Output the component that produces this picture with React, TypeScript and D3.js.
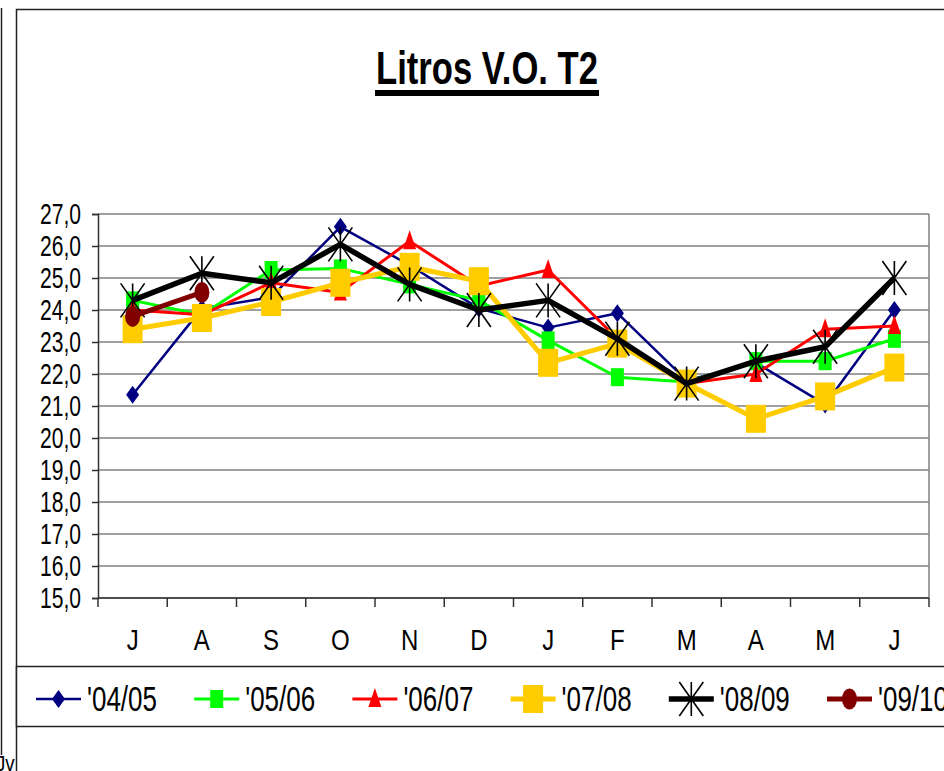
import React, { useEffect, useRef } from "react";
import * as d3 from "d3";

// --- Data ---
const months = ["J", "A", "S", "O", "N", "D", "J", "F", "M", "A", "M", "J"];
const seriesNames = ["'04/05", "'05/06", "'06/07", "'07/08", "'08/09", "'09/10"];
const s0405 = [21.35, 24.05, 24.4, 26.6, 25.4, 24.05, 23.45, 23.9, 21.8, 22.35, 21.05, 24.0];
const s0506 = [24.3, 23.85, 25.25, 25.3, 24.8, 24.3, 23.05, 21.9, 21.75, 22.4, 22.4, 23.1];
const s0607 = [24.0, 23.85, 24.85, 24.55, 26.15, 24.75, 25.25, 23.1, 21.7, 22.0, 23.4, 23.5];
const s0708 = [23.4, 23.75, 24.25, 24.85, 25.35, 24.9, 22.35, 22.95, 21.7, 20.6, 21.3, 22.2];
const s0809 = [24.3, 25.15, 24.85, 26.05, 24.8, 24.0, 24.3, 23.1, 21.7, 22.4, 22.85, 25.0];
const s0910 = [23.8, 24.55];
const yTicks = [15, 16, 17, 18, 19, 20, 21, 22, 23, 24, 25, 26, 27];

const FONT = "'Liberation Sans Narrow', 'Arial Narrow', 'Liberation Sans', Arial, sans-serif";

const App = () => {
  const svgRef = useRef<SVGSVGElement>(null);

  useEffect(() => {
    const svg = d3.select(svgRef.current);
    svg.selectAll("*").remove();

    const width = 944;
    const height = 771;
    const plot = { left: 98, right: 929, top: 214, bottom: 598 };

    const x = d3
      .scaleBand<number>()
      .domain(d3.range(months.length))
      .range([plot.left, plot.right]);
    const y = d3.scaleLinear().domain([15, 27]).range([plot.bottom, plot.top]);
    const cx = (i: number) => (x(i) as number) + x.bandwidth() / 2;

    const series = [
      { name: seriesNames[0], values: s0405, color: "#000080", lw: 2.5, marker: "diamond" },
      { name: seriesNames[1], values: s0506, color: "#00ff00", lw: 3, marker: "square" },
      { name: seriesNames[2], values: s0607, color: "#ff0000", lw: 3, marker: "triangle" },
      { name: seriesNames[3], values: s0708, color: "#ffcc00", lw: 5, marker: "bigsquare" },
      { name: seriesNames[4], values: s0809, color: "#000000", lw: 5.5, marker: "star" },
      { name: seriesNames[5], values: s0910, color: "#800000", lw: 5, marker: "circle" },
    ];

    // outer frames
    svg
      .append("line")
      .attr("x1", 1.5)
      .attr("x2", 1.5)
      .attr("y1", 8)
      .attr("y2", 755)
      .attr("stroke", "#222")
      .attr("stroke-width", 1.5);
    svg
      .append("rect")
      .attr("x", 16.5)
      .attr("y", 9.5)
      .attr("width", 1000)
      .attr("height", 1000)
      .attr("fill", "#fff")
      .attr("stroke", "#222")
      .attr("stroke-width", 1.5);
    svg
      .append("text")
      .attr("transform", "translate(-4,771) scale(0.85,1)")
      .style("font-family", FONT)
      .style("font-size", "22px")
      .text("Jv");

    // title
    svg
      .append("text")
      .attr("x", 376)
      .attr("y", 84)
      .attr("textLength", 222)
      .attr("lengthAdjust", "spacingAndGlyphs")
      .style("font-family", FONT)
      .style("font-weight", "bold")
      .style("font-size", "46px")
      .text("Litros V.O. T2");
    svg.append("rect").attr("x", 375).attr("y", 90).attr("width", 224).attr("height", 6).attr("fill", "#000");

    // gridlines
    svg
      .append("g")
      .selectAll("line")
      .data(yTicks)
      .join("line")
      .attr("x1", plot.left)
      .attr("x2", plot.right)
      .attr("y1", (d) => y(d))
      .attr("y2", (d) => y(d))
      .attr("stroke", "#808080")
      .attr("stroke-width", 1.5);
    svg
      .append("line")
      .attr("x1", plot.right)
      .attr("x2", plot.right)
      .attr("y1", plot.top)
      .attr("y2", plot.bottom)
      .attr("stroke", "#808080")
      .attr("stroke-width", 1.5);

    // y axis
    const yAxis = svg
      .append("g")
      .attr("transform", `translate(${plot.left},0)`)
      .call(
        d3
          .axisLeft(y)
          .tickValues(yTicks)
          .tickSize(6)
          .tickPadding(11)
          .tickFormat((d) => d3.format(".1f")(d as number).replace(".", ","))
      );
    yAxis.select(".domain").attr("stroke", "#333").attr("stroke-width", 1.5);
    yAxis.selectAll(".tick line").attr("stroke", "#333").attr("stroke-width", 1.5);
    yAxis
      .selectAll(".tick text")
      .attr("textLength", 41)
      .attr("lengthAdjust", "spacingAndGlyphs")
      .style("font-family", FONT)
      .style("font-size", "29px")
      .attr("fill", "#000");

    // x axis
    svg
      .append("line")
      .attr("x1", plot.left)
      .attr("x2", plot.right)
      .attr("y1", plot.bottom)
      .attr("y2", plot.bottom)
      .attr("stroke", "#333")
      .attr("stroke-width", 1.5);
    svg
      .append("g")
      .selectAll("line")
      .data(d3.range(months.length + 1))
      .join("line")
      .attr("x1", (i) => plot.left + i * x.bandwidth())
      .attr("x2", (i) => plot.left + i * x.bandwidth())
      .attr("y1", plot.bottom)
      .attr("y2", plot.bottom + 9)
      .attr("stroke", "#333")
      .attr("stroke-width", 1.5);
    svg
      .append("g")
      .selectAll("text")
      .data(months)
      .join("text")
      .attr("transform", (_, i) => `translate(${cx(i)},650) scale(0.8,1)`)
      .attr("text-anchor", "middle")
      .style("font-family", FONT)
      .style("font-size", "30px")
      .text((d) => d);

    // markers
    const drawMarker = (g: any, type: string, color: string) => {
      if (type === "diamond") {
        g.append("path").attr("d", "M0,-9L6.5,0L0,9L-6.5,0Z").attr("fill", color);
      } else if (type === "square") {
        g.append("rect").attr("x", -6.5).attr("y", -9).attr("width", 13).attr("height", 18).attr("fill", color);
      } else if (type === "triangle") {
        g.append("path").attr("d", "M0,-11L6.5,8L-6.5,8Z").attr("fill", color);
      } else if (type === "bigsquare") {
        g.append("rect").attr("x", -10).attr("y", -14).attr("width", 20).attr("height", 28).attr("fill", color);
      } else if (type === "star") {
        g.append("path")
          .attr("d", "M-12,-17L12,17M12,-17L-12,17M0,-17L0,17")
          .attr("stroke", color)
          .attr("stroke-width", 1.6)
          .attr("fill", "none");
      } else if (type === "circle") {
        g.append("ellipse").attr("rx", 7.5).attr("ry", 10.5).attr("fill", color);
      }
    };

    const line = d3
      .line<number>()
      .x((_, i) => cx(i))
      .y((d) => y(d));

    series.forEach((s) => {
      const g = svg.append("g");
      g.append("path")
        .attr("d", line(s.values))
        .attr("fill", "none")
        .attr("stroke", s.color)
        .attr("stroke-width", s.lw)
        .attr("stroke-linejoin", "round");
      s.values.forEach((v, i) => {
        const m = g.append("g").attr("transform", `translate(${cx(i)},${y(v)})`);
        drawMarker(m, s.marker, s.color);
      });
    });

    // legend
    svg
      .append("rect")
      .attr("x", 16.5)
      .attr("y", 666.5)
      .attr("width", 1000)
      .attr("height", 60)
      .attr("fill", "#fff")
      .attr("stroke", "#222")
      .attr("stroke-width", 1.5);

    series.forEach((s, i) => {
      const lx = 87 + i * 158.2;
      const row = svg.append("g");
      row
        .append("line")
        .attr("x1", lx - 51)
        .attr("x2", lx - 6)
        .attr("y1", 699)
        .attr("y2", 699)
        .attr("stroke", s.color)
        .attr("stroke-width", s.lw);
      const m = row.append("g").attr("transform", `translate(${lx - 28.5},699)`);
      drawMarker(m, s.marker, s.color);
      row
        .append("text")
        .attr("x", lx)
        .attr("y", 711)
        .attr("textLength", 70)
        .attr("lengthAdjust", "spacingAndGlyphs")
        .style("font-family", FONT)
        .style("font-size", "35px")
        .text(s.name);
    });

    svg.attr("width", width).attr("height", height);
  }, []);

  return (
    <div style={{ position: "absolute", left: 0, top: 0 }}>
      <svg ref={svgRef} width={944} height={771} style={{ display: "block", overflow: "hidden" }}></svg>
    </div>
  );
};

export default App;
